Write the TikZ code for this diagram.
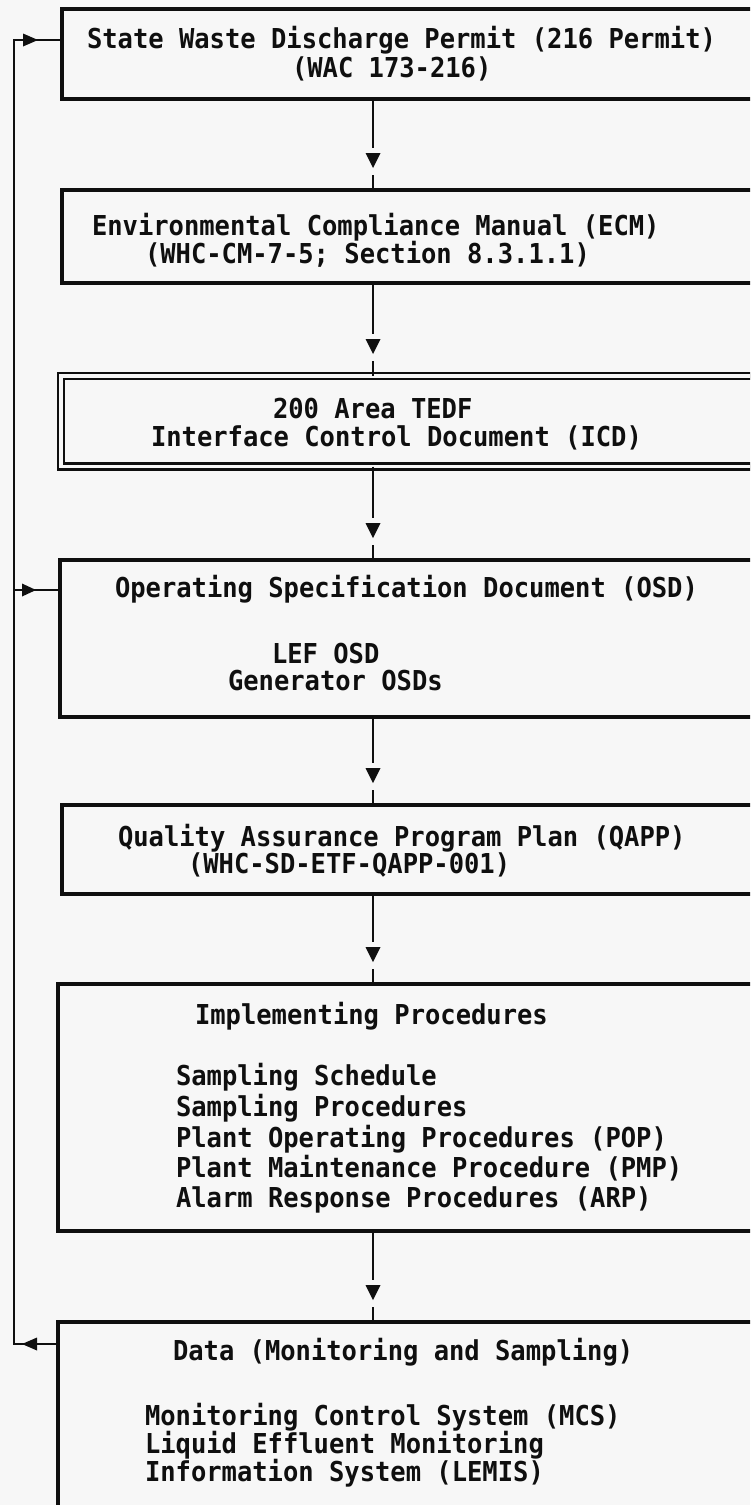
\documentclass[tikz,border=0pt]{standalone}
\usepackage{fontspec}
\newfontfamily\twfont[FakeStretch=0.93]{DejaVu Sans Mono}
\usetikzlibrary{calc}
\definecolor{paper}{RGB}{247,247,247}
\definecolor{ink}{RGB}{15,15,15}
\begin{document}
\begin{tikzpicture}[x=1pt,y=-1pt,
  box/.style={draw=ink,line width=3.2pt,anchor=north west,inner sep=0pt,outer sep=0pt,minimum width=740pt},
  dbox/.style={draw=ink,double=paper,double distance=3.4pt,line width=2.5pt,anchor=north west,inner sep=0pt,outer sep=0pt,minimum width=740pt},
  txt/.style={anchor=base west,inner sep=0pt,outer sep=0pt,text=ink,font=\twfont\bfseries\fontsize{27.4pt}{30pt}\selectfont},
  conn/.style={draw=ink,line width=2.8pt},
  head/.style={fill=ink}]
\fill[paper] (0,0) rectangle (750,1505);
\useasboundingbox (0,0) rectangle (750,1505);
\clip (0,0) rectangle (750,1505);

% boxes
\node[box,minimum height=90pt] (b1) at (62,9) {};
\node[box,minimum height=93pt] (b2) at (62,190) {};
\node[dbox,minimum height=90.5pt] (b3) at (61,376) {};
\node[box,minimum height=157pt] (b4) at (60,560) {};
\node[box,minimum height=89pt] (b5) at (62,805) {};
\node[box,minimum height=247pt] (b6) at (58,984) {};
\node[box,minimum height=200pt] (b7) at (58,1322) {};

% texts
\node[txt] (t1a) at (87,48) {State Waste Discharge Permit (216 Permit)};
\node[txt] (t1b) at (292,77) {(WAC 173-216)};
\node[txt] (t2a) at (92,235) {Environmental Compliance Manual (ECM)};
\node[txt] (t2b) at (145,263) {(WHC-CM-7-5; Section 8.3.1.1)};
\node[txt] (t3a) at (273,418) {200 Area TEDF};
\node[txt] (t3b) at (151,446) {Interface Control Document (ICD)};
\node[txt] (t4a) at (115,597) {Operating Specification Document (OSD)};
\node[txt] (t4b) at (272,663) {LEF OSD};
\node[txt] (t4c) at (228,690) {Generator OSDs};
\node[txt] (t5a) at (118,846) {Quality Assurance Program Plan (QAPP)};
\node[txt] (t5b) at (188,873) {(WHC-SD-ETF-QAPP-001)};
\node[txt] (t6a) at (195,1024) {Implementing Procedures};
\node[txt] (t6b) at (176,1085) {Sampling Schedule};
\node[txt] (t6c) at (176,1116) {Sampling Procedures};
\node[txt] (t6d) at (176,1147) {Plant Operating Procedures (POP)};
\node[txt] (t6e) at (176,1177) {Plant Maintenance Procedure (PMP)};
\node[txt] (t6f) at (176,1207) {Alarm Response Procedures (ARP)};
\node[txt] (t7a) at (173,1360) {Data (Monitoring and Sampling)};
\node[txt] (t7b) at (145,1425) {Monitoring Control System (MCS)};
\node[txt] (t7c) at (145,1453) {Liquid Effluent Monitoring};
\node[txt] (t7d) at (145,1481) {Information System (LEMIS)};

% vertical connectors
\coordinate (cx) at (373,0);
\foreach \a/\b in {b1/b2,b2/b3,b3/b4,b4/b5,b5/b6,b6/b7}{
  \path (cx |- \b.north) coordinate (e);
  \draw[conn] (cx |- \a.south) -- ([yshift=42pt]e);
  \fill[head] ([xshift=-7.5pt,yshift=37pt]e) -- ([xshift=7.5pt,yshift=37pt]e) -- ([yshift=22pt]e) -- cycle;
  \draw[conn] ([yshift=15pt]e) -- (e);
}

% feedback loop
\coordinate (L1) at (14,40);
\coordinate (L2) at (14,590);
\coordinate (L3) at (14,1344);
\draw[conn] (b7.west |- L3) -- (L3) -- (L1) -- (b1.west |- L1);
\draw[conn] (L2) -- (b4.west |- L2);
\fill[head] ($(L1)+(9,-6.5)$) -- ($(L1)+(9,6.5)$) -- ($(L1)+(24,0)$) -- cycle;
\fill[head] ($(L2)+(8,-6.5)$) -- ($(L2)+(8,6.5)$) -- ($(L2)+(22,0)$) -- cycle;
\fill[head] ($(L3)+(23,-6.5)$) -- ($(L3)+(23,6.5)$) -- ($(L3)+(8,0)$) -- cycle;
\end{tikzpicture}
\end{document}
